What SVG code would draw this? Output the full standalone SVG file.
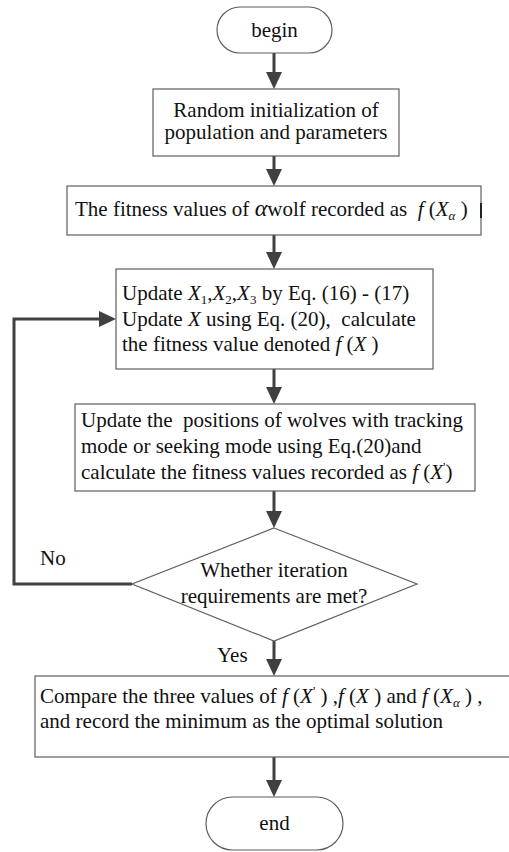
<svg xmlns="http://www.w3.org/2000/svg" width="509" height="852" viewBox="0 0 509 852">
<style>
.box{fill:#fff;stroke:#5e5e5e;stroke-width:1.2}
.t{font-family:"Liberation Serif","Times New Roman",serif;font-size:21px;fill:#111;white-space:pre}
.c{text-anchor:middle}
.i{font-style:italic}
.s{font-size:13px}
.edge{fill:none;stroke:#404040;stroke-width:3}
</style>
<defs>
<marker id="ah" markerUnits="userSpaceOnUse" markerWidth="18" markerHeight="18" refX="7" refY="9" orient="auto">
<path d="M0,1 L17,9 L0,17 Z" fill="#404040"/>
</marker>
</defs>

<g id="connectors">
<line class="edge" x1="274" y1="53" x2="274" y2="79" marker-end="url(#ah)"/>
<line class="edge" x1="274" y1="156" x2="274" y2="176" marker-end="url(#ah)"/>
<line class="edge" x1="274" y1="235" x2="274" y2="259" marker-end="url(#ah)"/>
<line class="edge" x1="274" y1="369" x2="274" y2="394" marker-end="url(#ah)"/>
<line class="edge" x1="274" y1="491" x2="274" y2="518" marker-end="url(#ah)"/>
<line class="edge" x1="274" y1="641" x2="274" y2="666" marker-end="url(#ah)"/>
<line class="edge" x1="274" y1="757" x2="274" y2="787" marker-end="url(#ah)"/>
<polyline class="edge" points="132,584 14,584 14,319 106,319" marker-end="url(#ah)"/>
<text class="t" x="40" y="565">No</text>
<text class="t" x="217" y="662">Yes</text>
</g>

<g id="begin">
<rect class="box" x="217" y="7" width="115" height="46" rx="23"/>
<text class="t c" x="274.5" y="37">begin</text>
</g>

<g id="init">
<rect class="box" x="153" y="89" width="246" height="67"/>
<text class="t c" x="276" y="117">Random initialization of</text>
<text class="t c" x="276" y="139">population and parameters</text>
</g>

<g id="alpha-fitness">
<rect class="box" x="67" y="186" width="414" height="49"/>
<line x1="481" y1="203" x2="481" y2="218" stroke="#222" stroke-width="2"/>
<text class="t" x="75" y="216">The fitness values of <tspan class="i" font-size="24">α</tspan>wolf recorded as  <tspan class="i">f</tspan> (<tspan class="i">X</tspan><tspan class="i s" dy="4">α</tspan><tspan dy="-4"> )</tspan></text>
</g>

<g id="update-x">
<rect class="box" x="116" y="269" width="317" height="100"/>
<text class="t" x="122" y="300">Update <tspan class="i">X</tspan><tspan class="s" dy="4">1</tspan><tspan dy="-4">,</tspan><tspan class="i">X</tspan><tspan class="s" dy="4">2</tspan><tspan dy="-4">,</tspan><tspan class="i">X</tspan><tspan class="s" dy="4">3</tspan><tspan dy="-4"> by Eq. (16) - (17)</tspan></text>
<text class="t" x="122" y="326">Update <tspan class="i">X</tspan> using Eq. (20),  calculate</text>
<text class="t" x="122" y="351">the fitness value denoted <tspan class="i">f</tspan> (<tspan class="i">X</tspan> )</text>
</g>

<g id="update-wolves">
<rect class="box" x="75" y="404" width="400" height="87"/>
<text class="t" x="81" y="427">Update the  positions of wolves with tracking</text>
<text class="t" x="81" y="453">mode or seeking mode using Eq.(20)and</text>
<text class="t" x="81" y="479">calculate the fitness values recorded as <tspan class="i">f</tspan> (<tspan class="i">X</tspan><tspan class="s" dy="-8">'</tspan><tspan dy="8">)</tspan></text>
</g>

<g id="decision">
<polygon class="box" points="274,528 417,584 274,641 132,584"/>
<text class="t c" x="274" y="577">Whether iteration</text>
<text class="t c" x="274" y="603">requirements are met?</text>
</g>

<g id="compare">
<rect class="box" x="35" y="676" width="490" height="81"/>
<text class="t" x="40" y="703">Compare the three values of <tspan class="i">f</tspan> (<tspan class="i">X</tspan><tspan class="s" dy="-8">'</tspan><tspan dy="8"> ) ,</tspan><tspan class="i">f</tspan> (<tspan class="i">X</tspan> ) and <tspan class="i">f</tspan> (<tspan class="i">X</tspan><tspan class="i s" dy="4">α</tspan><tspan dy="-4"> ) ,</tspan></text>
<text class="t" x="40" y="728">and record the minimum as the optimal solution</text>
</g>

<g id="end">
<rect class="box" x="206" y="797" width="137" height="53" rx="26.5"/>
<text class="t c" x="274.5" y="830">end</text>
</g>
</svg>
